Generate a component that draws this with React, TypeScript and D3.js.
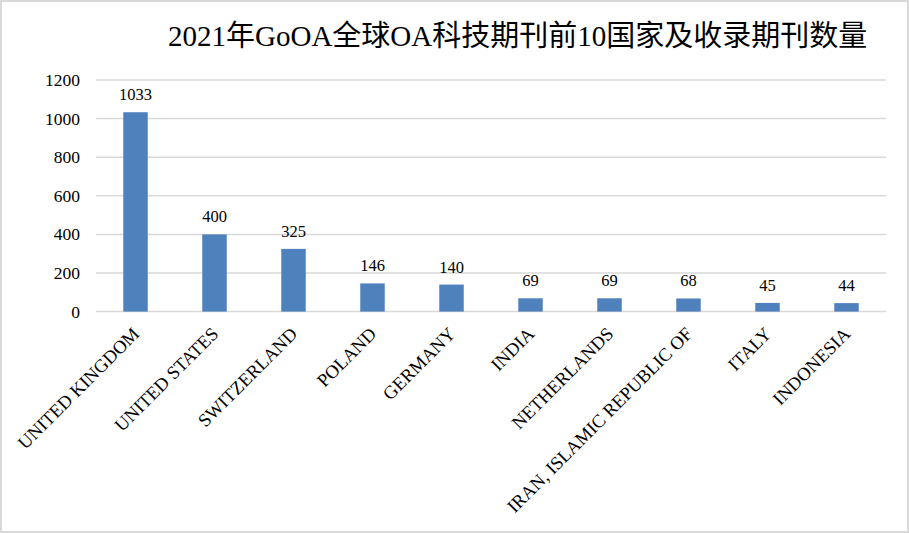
import React from "react";
import * as d3 from "d3";

const categories = [
  "UNITED KINGDOM",
  "UNITED STATES",
  "SWITZERLAND",
  "POLAND",
  "GERMANY",
  "INDIA",
  "NETHERLANDS",
  "IRAN, ISLAMIC REPUBLIC OF",
  "ITALY",
  "INDONESIA",
];
const values = [1033, 400, 325, 146, 140, 69, 69, 68, 45, 44];
const yTicks = [0, 200, 400, 600, 800, 1000, 1200];
const title = "2021年GoOA全球OA科技期刊前10国家及收录期刊数量";

const W = 909;
const H = 533;
const plot = { left: 96, right: 886, top: 80, bottom: 311.6 };
const serif = '"Liberation Serif", "Times New Roman", serif';
const titleFont = '"Liberation Serif", "Noto Sans CJK SC", serif';

export default function App() {
  const x = d3
    .scaleBand<string>()
    .domain(categories)
    .range([plot.left, plot.right])
    .paddingInner(0.69)
    .paddingOuter(0.345);
  const y = d3.scaleLinear().domain([0, 1200]).range([plot.bottom, plot.top]);
  const bw = x.bandwidth();

  return (
    <svg
      width={W}
      height={H}
      style={{ position: "absolute", left: 0, top: 0, background: "#fff" }}
    >
      <rect x={0} y={0} width={W} height={H} fill="#fff" />
      <rect
        x={1}
        y={1}
        width={W - 2}
        height={H - 2}
        fill="none"
        stroke="#d9d9d9"
        strokeWidth={2}
      />
      <text x={168} y={46} fontFamily={titleFont} fontSize={29} fill="#000">
        {title}
      </text>
      {yTicks.map((t) => (
        <g key={t}>
          <line
            x1={plot.left}
            x2={plot.right}
            y1={y(t)}
            y2={y(t)}
            stroke="#d9d9d9"
            strokeWidth={1.5}
          />
          <text
            x={80}
            y={y(t) + 6}
            textAnchor="end"
            fontFamily={serif}
            fontSize={17.5}
            fill="#000"
          >
            {t}
          </text>
        </g>
      ))}
      {categories.map((c, i) => {
        const cx = (x(c) as number) + bw / 2;
        const lx = cx + 5;
        const ly = 335;
        return (
          <g key={c}>
            <rect
              x={x(c)}
              y={y(values[i])}
              width={bw}
              height={y(0) - y(values[i])}
              fill="#4f81bd"
            />
            <text
              x={cx}
              y={y(values[i]) - 12}
              textAnchor="middle"
              fontFamily={serif}
              fontSize={16.5}
              fill="#000"
            >
              {values[i]}
            </text>
            <text
              x={lx}
              y={ly}
              textAnchor="end"
              transform={`rotate(-45, ${lx}, ${ly})`}
              fontFamily={serif}
              fontSize={18.5}
              fill="#000"
            >
              {c}
            </text>
          </g>
        );
      })}
    </svg>
  );
}
